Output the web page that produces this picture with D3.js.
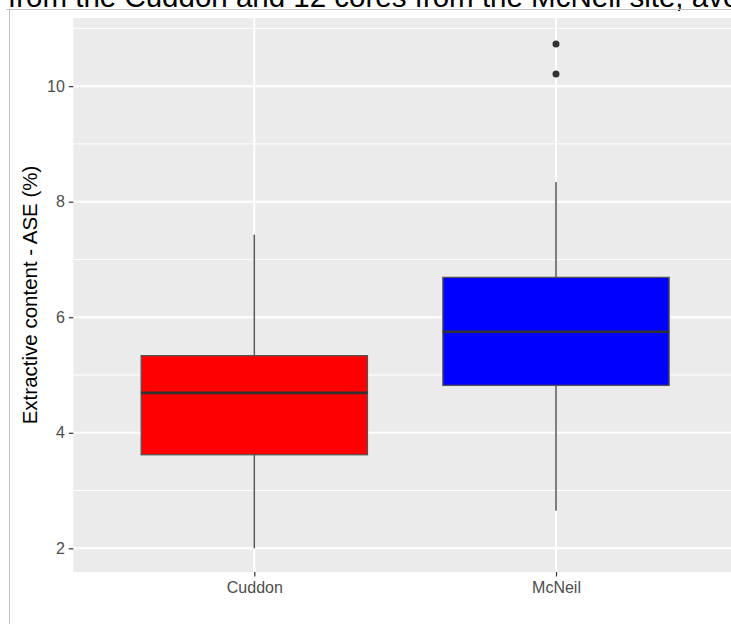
<!DOCTYPE html>
<html>
<head>
<meta charset="utf-8">
<script src="https://cdn.jsdelivr.net/npm/d3@7"></script>
<style>
  html, body { margin: 0; padding: 0; background: #ffffff; overflow: hidden; }
  svg { display: block; overflow: hidden; font-family: "Liberation Sans", Arial, sans-serif; }
</style>
</head>
<body>
<svg id="chart" width="731" height="624"></svg>
<script>
// Extractive content (ASE, %) by site
const categories   = ["Cuddon", "McNeil"];
const lowerWhisker = [2.00, 2.65];
const q1           = [3.62, 4.82];
const median       = [4.69, 5.75];
const q3           = [5.335, 6.69];
const upperWhisker = [7.43, 8.34];
const outlierSite  = ["McNeil", "McNeil"];
const outlierValue = [10.21, 10.73];
const fills        = ["#FF0000", "#0000FF"];
const yTicks       = [2, 4, 6, 8, 10];
const yMinorTicks  = [3, 5, 7, 9, 11];

const svg = d3.select("#chart");
const W = 731, H = 624;

// caption line running off the top of the figure
svg.append("text")
  .attr("x", 8).attr("y", 7)
  .attr("font-size", 29.5)
  .attr("fill", "#000")
  .text("from the Cuddon and 12 cores from the McNeil site, averaged");

// figure frame
svg.append("line").attr("x1", 6).attr("x2", W).attr("y1", 9.5).attr("y2", 9.5)
  .attr("stroke", "#c4c4c4").attr("stroke-width", 1);
svg.append("line").attr("x1", 9.5).attr("x2", 9.5).attr("y1", 9).attr("y2", H)
  .attr("stroke", "#c4c4c4").attr("stroke-width", 1);

const panel = { left: 73.3, right: 737, top: 18, bottom: 572 };

const x = d3.scalePoint()
  .domain(categories)
  .range([panel.left, panel.right])
  .padding(0.6);

const y = d3.scaleLinear()
  .domain([1.59, 11.18])
  .range([panel.bottom, panel.top]);

const step = x.step();
const boxW = step * 0.75;

// panel background
svg.append("rect")
  .attr("x", panel.left).attr("y", panel.top)
  .attr("width", panel.right - panel.left).attr("height", panel.bottom - panel.top)
  .attr("fill", "#EBEBEB");

const grid = svg.append("g");
grid.selectAll("line.minor").data(yMinorTicks).join("line")
  .attr("class", "minor")
  .attr("x1", panel.left).attr("x2", panel.right)
  .attr("y1", d => y(d)).attr("y2", d => y(d))
  .attr("stroke", "#ffffff").attr("stroke-width", 1);
grid.selectAll("line.major").data(yTicks).join("line")
  .attr("class", "major")
  .attr("x1", panel.left).attr("x2", panel.right)
  .attr("y1", d => y(d)).attr("y2", d => y(d))
  .attr("stroke", "#ffffff").attr("stroke-width", 2);
grid.selectAll("line.vmajor").data(categories).join("line")
  .attr("class", "vmajor")
  .attr("x1", d => x(d)).attr("x2", d => x(d))
  .attr("y1", panel.top).attr("y2", panel.bottom)
  .attr("stroke", "#ffffff").attr("stroke-width", 2);

// boxes
const boxes = svg.append("g");
categories.forEach((c, i) => {
  const cx = x(c);
  const g = boxes.append("g");
  g.append("line")
    .attr("x1", cx).attr("x2", cx)
    .attr("y1", y(upperWhisker[i])).attr("y2", y(q3[i]))
    .attr("stroke", "#555555").attr("stroke-width", 1.5);
  g.append("line")
    .attr("x1", cx).attr("x2", cx)
    .attr("y1", y(q1[i])).attr("y2", y(lowerWhisker[i]))
    .attr("stroke", "#555555").attr("stroke-width", 1.5);
  g.append("rect")
    .attr("x", cx - boxW / 2).attr("y", y(q3[i]))
    .attr("width", boxW).attr("height", y(q1[i]) - y(q3[i]))
    .attr("fill", fills[i])
    .attr("stroke", "#555555").attr("stroke-width", 1.3);
  g.append("line")
    .attr("x1", cx - boxW / 2).attr("x2", cx + boxW / 2)
    .attr("y1", y(median[i])).attr("y2", y(median[i]))
    .attr("stroke", "#333333").attr("stroke-width", 2.6);
});

// outliers
svg.append("g").selectAll("circle").data(outlierValue).join("circle")
  .attr("cx", (d, i) => x(outlierSite[i]))
  .attr("cy", d => y(d))
  .attr("r", 3.5)
  .attr("fill", "#333333");

// y axis
const yAxis = svg.append("g")
  .attr("transform", `translate(${panel.left},0)`)
  .call(d3.axisLeft(y).tickValues(yTicks).tickSize(4.5).tickPadding(4).tickFormat(d3.format("d")));
yAxis.select(".domain").remove();
yAxis.selectAll(".tick line").attr("stroke", "#333333").attr("stroke-width", 1.2);
yAxis.selectAll(".tick text")
  .attr("fill", "#4D4D4D").attr("font-size", 16)
  .attr("font-family", "Liberation Sans, Arial, sans-serif");

// x axis
const xAxis = svg.append("g")
  .attr("transform", `translate(0,${panel.bottom})`)
  .call(d3.axisBottom(x).tickSize(4.5).tickPadding(5));
xAxis.select(".domain").remove();
xAxis.selectAll(".tick line").attr("stroke", "#333333").attr("stroke-width", 1.2);
xAxis.selectAll(".tick text")
  .attr("fill", "#4D4D4D").attr("font-size", 16)
  .attr("font-family", "Liberation Sans, Arial, sans-serif");

// y axis title
svg.append("text")
  .attr("transform", `translate(37,${(panel.top + panel.bottom) / 2}) rotate(-90)`)
  .attr("text-anchor", "middle")
  .attr("font-size", 20.5)
  .attr("fill", "#000")
  .text("Extractive content - ASE (%)");
</script>
</body>
</html>
